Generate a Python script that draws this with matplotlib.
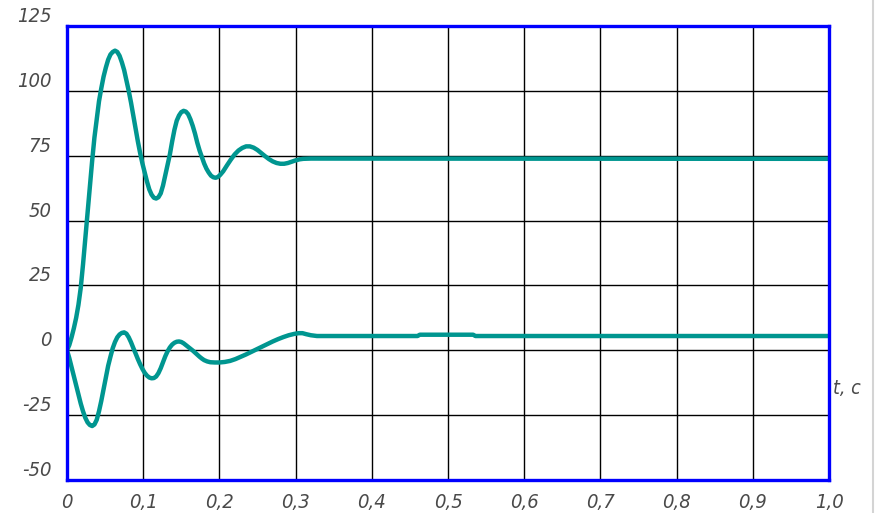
import matplotlib
matplotlib.use("Agg")
import matplotlib.pyplot as plt
from matplotlib.lines import Line2D

# Upper response (t, value)
t_upper = [0.000, 0.003, 0.006, 0.009, 0.012, 0.015, 0.018, 0.021, 0.024, 0.027,
           0.030, 0.033, 0.036, 0.039, 0.042, 0.045, 0.048, 0.051, 0.054, 0.057,
           0.060, 0.063, 0.066, 0.069, 0.072, 0.075, 0.078, 0.081, 0.084, 0.087,
           0.090, 0.093, 0.096, 0.099, 0.102, 0.105, 0.108, 0.111, 0.114, 0.117,
           0.120, 0.123, 0.126, 0.129, 0.132, 0.135, 0.138, 0.141, 0.144, 0.147,
           0.150, 0.153, 0.156, 0.159, 0.162, 0.165, 0.168, 0.171, 0.174, 0.177,
           0.180, 0.183, 0.186, 0.189, 0.192, 0.195, 0.198, 0.201, 0.205, 0.210,
           0.215, 0.220, 0.225, 0.230, 0.235, 0.240, 0.245, 0.250, 0.255, 0.260,
           0.265, 0.270, 0.275, 0.280, 0.285, 0.290, 0.295, 0.300, 0.305, 0.310,
           0.320, 1.000]
v_upper = [0.0, 2.0, 5.0, 8.5, 12.5, 17.5, 24.0, 33.0, 43.0, 53.0,
           63.0, 73.0, 82.0, 89.0, 96.0, 101.0, 105.5, 109.0, 112.0, 114.0,
           115.0, 115.5, 115.0, 113.5, 111.0, 108.0, 104.0, 100.0, 95.5, 90.5,
           85.5, 80.5, 76.0, 72.0, 68.5, 65.0, 62.0, 60.0, 58.8, 58.5,
           59.0, 60.5, 63.5, 67.5, 71.5, 75.5, 80.5, 85.0, 88.5, 90.5,
           91.8, 92.3, 92.0, 91.0, 89.0, 86.5, 83.5, 80.0, 77.0, 74.5,
           72.0, 70.0, 68.5, 67.3, 66.7, 66.5, 66.8, 67.6, 69.0, 71.3,
           73.5, 75.5, 77.0, 78.0, 78.6, 78.6, 78.1, 77.2, 76.0, 74.8,
           73.7, 72.8, 72.2, 71.9, 71.9, 72.2, 72.7, 73.2, 73.6, 73.8,
           73.9, 73.8]

# Lower response (t, value)
t_lower = [0.000, 0.003, 0.006, 0.009, 0.012, 0.015, 0.018, 0.021, 0.024, 0.027,
           0.030, 0.033, 0.036, 0.039, 0.042, 0.045, 0.048, 0.051, 0.054, 0.057,
           0.060, 0.063, 0.066, 0.069, 0.072, 0.075, 0.078, 0.081, 0.084, 0.087,
           0.090, 0.093, 0.096, 0.099, 0.102, 0.105, 0.108, 0.111, 0.114, 0.117,
           0.120, 0.123, 0.126, 0.129, 0.132, 0.135, 0.138, 0.141, 0.144, 0.147,
           0.150, 0.153, 0.156, 0.159, 0.162, 0.165, 0.168, 0.171, 0.174, 0.177,
           0.180, 0.184, 0.188, 0.194, 0.200, 0.207, 0.214, 0.221, 0.228, 0.235,
           0.242, 0.249, 0.256, 0.263, 0.270, 0.277, 0.284, 0.291, 0.298, 0.304,
           0.309, 0.314, 0.320, 0.328, 0.460, 0.463, 0.533, 0.536, 1.000]
v_lower = [0.0, -3.0, -6.5, -10.0, -13.5, -17.0, -20.5, -23.5, -26.0, -27.8,
           -28.8, -29.2, -28.6, -26.8, -23.5, -19.5, -15.0, -10.5, -6.0, -2.5,
           0.8, 3.2, 5.0, 6.1, 6.7, 6.9, 6.4, 5.0, 3.1, 0.9,
           -1.2, -3.4, -5.4, -7.2, -8.7, -9.8, -10.5, -10.8, -10.7, -10.1,
           -8.8, -6.9, -4.6, -2.3, -0.4, 1.1, 2.2, 2.9, 3.3, 3.4,
           3.2, 2.7, 2.0, 1.3, 0.6, -0.1, -0.9, -1.7, -2.5, -3.2,
           -3.8, -4.3, -4.6, -4.7, -4.7, -4.5, -4.1, -3.4, -2.5, -1.6,
           -0.6, 0.4, 1.4, 2.4, 3.4, 4.3, 5.1, 5.8, 6.3, 6.6,
           6.6, 6.2, 5.8, 5.5, 5.5, 6.0, 6.0, 5.5, 5.5]

x_ticks = [0.0, 0.1, 0.2, 0.3, 0.4, 0.5, 0.6, 0.7, 0.8, 0.9, 1.0]
x_labels = ["0", "0,1", "0,2", "0,3", "0,4", "0,5", "0,6", "0,7", "0,8", "0,9", "1,0"]
y_ticks = [-50, -25, 0, 25, 50, 75, 100, 125]
y_labels = ["-50", "-25", "0", "25", "50", "75", "100", "125"]

fonts = ["DejaVu Sans"]
label_color = "#4a4a4a"
line_color = "#009690"

fig = plt.figure(figsize=(8.75, 5.13), dpi=100)
ax = fig.add_axes([67 / 875, 1 - 480 / 513, (829 - 67) / 875, (480 - 26) / 513])

ax.plot(t_upper, v_upper, color=line_color, lw=3.2, solid_joinstyle="round", zorder=3)
ax.plot(t_lower, v_lower, color=line_color, lw=3.2, solid_joinstyle="round", zorder=3)

ax.set_xlim(0, 1.0)
ax.set_ylim(-50, 125)
ax.set_xticks(x_ticks)
ax.set_xticklabels(x_labels)
ax.set_yticks(y_ticks)
ax.set_yticklabels(y_labels)

ax.grid(True, color="black", lw=1.0, zorder=1)
ax.tick_params(length=0, pad=9)
ax.tick_params(axis="y", pad=11)
for lab in ax.get_xticklabels() + ax.get_yticklabels():
    lab.set_family(fonts)
    lab.set_style("italic")
    lab.set_stretch("condensed")
    lab.set_fontsize(14.5)
    lab.set_color(label_color)
for lab in ax.get_yticklabels():
    lab.set_verticalalignment("bottom")

for sp in ax.spines.values():
    sp.set_color("#0000ff")
    sp.set_linewidth(2.4)
    sp.set_zorder(4)

fig.text(847 / 875, 1 - 388 / 513, "t, c", family=fonts, style="italic",
         stretch="condensed", fontsize=14, color=label_color,
         ha="center", va="center")

# thin grey edge on the right side of the canvas
fig.add_artist(Line2D([873 / 875, 873 / 875], [0, 1], transform=fig.transFigure,
                      color="#d4d4d4", lw=1.5))

fig.savefig("out.png", dpi=100)
